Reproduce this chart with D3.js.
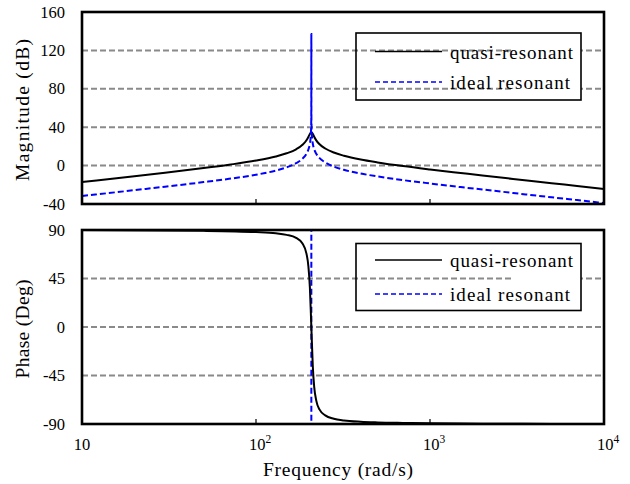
<!DOCTYPE html>
<html>
<head>
<meta charset="utf-8">
<script src="https://cdn.jsdelivr.net/npm/d3@7"></script>
<style>
  body { margin: 0; background: #fff; }
  svg { display: block; font-family: "Liberation Serif", "Times New Roman", serif; }
</style>
</head>
<body>
<svg id="chart" width="630" height="484"></svg>
<script>
// values
var quasiFreq = [10, 20, 30, 50, 70, 100, 130, 150, 170, 185, 195, 200, 204, 208, 212, 216, 222, 232, 250, 280, 320, 400, 500, 700, 1000, 1500, 2000, 3000, 5000, 7000, 10000];
var quasiMag = [-17.1, -11.0, -7.4, -2.6, 0.9, 5.2, 9.5, 12.8, 17.0, 21.7, 26.4, 29.8, 33.0, 35.0, 33.1, 30.0, 26.3, 22.2, 17.8, 13.6, 10.3, 6.3, 3.3, -0.5, -4.0, -7.7, -10.3, -13.9, -18.3, -21.3, -24.4];

var idealFreq = [10, 20, 30, 50, 70, 100, 130, 150, 170, 185, 195, 200, 204, 206, 207, 207.8, 208, 208.2, 209, 210, 212, 216, 222, 232, 250, 280, 320, 400, 500, 700, 1000, 1500, 2000, 3000, 5000, 7000, 10000];
var idealMag = [-31.7, -25.6, -22.0, -17.2, -13.8, -9.5, -5.2, -1.8, 2.5, 7.2, 12.4, 16.7, 22.8, 28.9, 34.9, 48.9, 137, 48.9, 35.0, 29.0, 23.0, 17.1, 12.3, 7.8, 3.3, -1.0, -4.4, -8.3, -11.3, -15.1, -18.6, -22.4, -24.9, -28.5, -33.0, -35.9, -39.0];

var phaseFreq = [10, 50, 100, 130, 150, 170, 185, 195, 200, 204, 208, 212, 216, 222, 232, 250, 280, 320, 400, 500, 700, 1000, 2000, 5000, 10000];
var quasiPhase = [89.9, 89.2, 88.1, 87.0, 85.5, 82.7, 77.5, 68.1, 56.5, 36.8, 0, -36.3, -55.5, -68.3, -76.7, -82.0, -85.1, -86.7, -87.9, -88.5, -89.0, -89.4, -89.7, -89.9, -89.9];

var idealPhaseFreq = [10, 208, 208, 10000];
var idealPhase = [90, 90, -90, -90];

var magTicks = [160, 120, 80, 40, 0, -40];
var phaseTicks = [90, 45, 0, -45, -90];
var freqTicks = [10, 100, 1000, 10000];
var freqTickLabels = [["10", ""], ["10", "2"], ["10", "3"], ["10", "4"]];
var legendLabelsTop = ["quasi-resonant", "ideal resonant"];
var legendLabelsBottom = ["quasi-resonant", "ideal resonant"];

var svg = d3.select("#chart");
var left = 82, right = 604;

var x = d3.scaleLog().domain([10, 10000]).range([left, right]);
var yMag = d3.scaleLinear().domain([-40, 160]).range([204, 12]);
var yPh = d3.scaleLinear().domain([-90, 90]).range([424, 230]);

function zip(a, b) {
    return a.map(function(d, i) { return [d, b[i]]; });
}

function panel(y, ticks, gridVals, top, bottom, title, titleLen) {
    var g = svg.append("g");
    // dashed grid
    g.selectAll("line.grid")
        .data(gridVals)
        .enter()
        .append("line")
        .attr("class", "grid")
        .attr("x1", left).attr("x2", right)
        .attr("y1", function(d) { return y(d); })
        .attr("y2", function(d) { return y(d); })
        .attr("stroke", "#8a8a8a")
        .attr("stroke-width", 2)
        .attr("stroke-dasharray", "6,3");
    // y tick labels
    g.selectAll("text.ytick")
        .data(ticks)
        .enter()
        .append("text")
        .attr("class", "ytick")
        .attr("x", 65)
        .attr("y", function(d) { return y(d); })
        .attr("dy", "0.34em")
        .attr("text-anchor", "end")
        .attr("font-size", 16.5)
        .text(function(d) { return d; });
    // y title
    g.append("text")
        .attr("transform", "translate(29," + ((top + bottom) / 2 + 2) + ") rotate(-90)")
        .attr("text-anchor", "middle")
        .attr("font-size", 19.5)
        .attr("textLength", titleLen)
        .attr("lengthAdjust", "spacing")
        .text(title);
    // inward ticks at decades
    g.selectAll("line.xtick")
        .data(freqTicks.slice(1, 3))
        .enter()
        .append("line")
        .attr("x1", function(d) { return x(d); })
        .attr("x2", function(d) { return x(d); })
        .attr("y1", bottom).attr("y2", bottom - 5)
        .attr("stroke", "#000").attr("stroke-width", 1.2);
    return g;
}

var gMag = panel(yMag, magTicks, [120, 80, 40, 0], 12, 204, "Magnitude (dB)", 142);
var gPh = panel(yPh, phaseTicks, [45, 0, -45], 230, 424, "Phase (Deg)", 99);

var lineMag = d3.line()
    .x(function(d) { return x(d[0]); })
    .y(function(d) { return yMag(d[1]); })
    .curve(d3.curveMonotoneX);
var linePh = d3.line()
    .x(function(d) { return x(d[0]); })
    .y(function(d) { return yPh(d[1]); })
    .curve(d3.curveMonotoneX);
var linePhStep = d3.line()
    .x(function(d) { return x(d[0]); })
    .y(function(d) { return yPh(d[1]); });

gMag.append("path")
    .attr("d", lineMag(zip(quasiFreq, quasiMag)))
    .attr("fill", "none").attr("stroke", "#000").attr("stroke-width", 2);
gMag.append("path")
    .attr("d", lineMag(zip(idealFreq, idealMag)))
    .attr("fill", "none").attr("stroke", "#0000ff").attr("stroke-width", 2)
    .attr("stroke-dasharray", "6,3");

gPh.append("path")
    .attr("d", linePhStep(zip(idealPhaseFreq, idealPhase)))
    .attr("fill", "none").attr("stroke", "#0000ff").attr("stroke-width", 2)
    .attr("stroke-dasharray", "6,3");
gPh.append("path")
    .attr("d", linePh(zip(phaseFreq, quasiPhase)))
    .attr("fill", "none").attr("stroke", "#000").attr("stroke-width", 2);

// frames
[[12, 204], [230, 424]].forEach(function(b) {
    svg.append("rect")
        .attr("x", left).attr("y", b[0])
        .attr("width", right - left).attr("height", b[1] - b[0])
        .attr("fill", "none").attr("stroke", "#000").attr("stroke-width", 2.6);
});

// x tick labels (bottom panel only)
var xl = svg.selectAll("text.xlab")
    .data(freqTicks)
    .enter()
    .append("text")
    .attr("class", "xlab")
    .attr("x", function(d, i) { return x(d) + (i ? 4 : 0); })
    .attr("y", 450)
    .attr("text-anchor", "middle")
    .attr("font-size", 16.5);
xl.append("tspan").text(function(d, i) { return freqTickLabels[i][0]; });
xl.append("tspan")
    .attr("dy", -7)
    .attr("font-size", 11.5)
    .text(function(d, i) { return freqTickLabels[i][1]; });

svg.append("text")
    .attr("x", 338).attr("y", 476)
    .attr("text-anchor", "middle")
    .attr("font-size", 19.5)
    .attr("textLength", 150)
    .attr("lengthAdjust", "spacing")
    .text("Frequency (rad/s)");

// legends
function legend(top, rowY, labels) {
    var g = svg.append("g");
    g.append("rect")
        .attr("x", 513).attr("y", top)
        .attr("width", 68).attr("height", 67)
        .attr("fill", "#fff");
    g.append("rect")
        .attr("x", 356).attr("y", top)
        .attr("width", 225).attr("height", 67)
        .attr("fill", "none").attr("stroke", "#000").attr("stroke-width", 1.6);
    var styles = [{c: "#000", d: null}, {c: "#0000ff", d: "5,3"}];
    labels.forEach(function(lab, i) {
        g.append("line")
            .attr("x1", 375).attr("x2", 442)
            .attr("y1", rowY[i]).attr("y2", rowY[i])
            .attr("stroke", styles[i].c).attr("stroke-width", 1.4)
            .attr("stroke-dasharray", styles[i].d);
        g.append("text")
            .attr("x", 450).attr("y", rowY[i] + 7)
            .attr("font-size", 19)
            .attr("textLength", i ? 120 : 123)
            .attr("lengthAdjust", "spacing")
            .text(lab);
    });
}
legend(33, [51.5, 82], legendLabelsTop);
legend(243.5, [260, 294], legendLabelsBottom);
</script>
</body>
</html>
